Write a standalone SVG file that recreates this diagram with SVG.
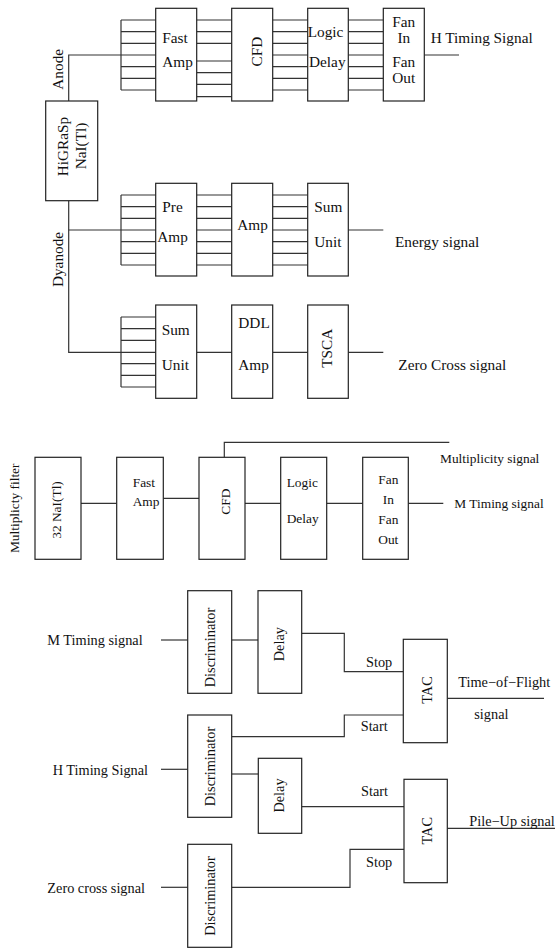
<svg xmlns="http://www.w3.org/2000/svg" width="555" height="950" viewBox="0 0 555 950">
<style>
.box{fill:#fff;stroke:#222;stroke-width:1.2}
.ln{fill:none;stroke:#333;stroke-width:1.2}
text{font-family:"Liberation Serif","Times New Roman",serif;fill:#111}
.t1{font-size:15.3px}
.t2{font-size:13.4px}
.t3{font-size:14.3px}
.m{text-anchor:middle}
</style>
<rect width="555" height="950" fill="#fff"/>

<g id="connectors">
  <!-- top: anode -->
  <polyline class="ln" points="68.7,101 68.7,55 121,55"/>
  <line class="ln" x1="121" y1="20" x2="121" y2="90"/>
  <path class="ln" d="M121,20H155.7M121,31.7H155.7M121,43.3H155.7M121,55H155.7M121,66.7H155.7M121,78.3H155.7M121,90H155.7"/>
  <path class="ln" d="M196.7,20H231.7M196.7,31.7H231.7M196.7,43.3H231.7M196.7,61H231.7M196.7,72.7H231.7M196.7,84.3H231.7M196.7,96.7H231.7"/>
  <path class="ln" d="M272.7,20H307.7M272.7,31.7H307.7M272.7,43.3H307.7M272.7,55H307.7M272.7,66.7H307.7M272.7,78.3H307.7M272.7,90H307.7"/>
  <path class="ln" d="M348.3,20H383.3M348.3,31.7H383.3M348.3,43.3H383.3M348.3,55H383.3M348.3,66.7H383.3M348.3,78.3H383.3M348.3,90H383.3"/>
  <line class="ln" x1="424.3" y1="55" x2="459" y2="55"/>
  <!-- dyanode -->
  <polyline class="ln" points="68.7,200.7 68.7,352.3 155.7,352.3"/>
  <line class="ln" x1="68.7" y1="230" x2="121" y2="230"/>
  <line class="ln" x1="121" y1="195" x2="121" y2="265"/>
  <path class="ln" d="M121,195H155.7M121,206.7H155.7M121,218.3H155.7M121,230H155.7M121,241.7H155.7M121,253.3H155.7M121,265H155.7"/>
  <path class="ln" d="M196.7,195H231.7M196.7,206.7H231.7M196.7,218.3H231.7M196.7,230H231.7M196.7,241.7H231.7M196.7,253.3H231.7M196.7,265H231.7"/>
  <path class="ln" d="M272.7,195H307.7M272.7,206.7H307.7M272.7,218.3H307.7M272.7,230H307.7M272.7,241.7H307.7M272.7,253.3H307.7M272.7,265H307.7"/>
  <line class="ln" x1="348.3" y1="230" x2="383.3" y2="230"/>
  <line class="ln" x1="121" y1="317" x2="121" y2="387"/>
  <path class="ln" d="M121,317H155.7M121,328.7H155.7M121,340.3H155.7M121,363.7H155.7M121,375.3H155.7M121,387H155.7"/>
  <line class="ln" x1="196.7" y1="352.3" x2="231.7" y2="352.3"/>
  <line class="ln" x1="272.7" y1="352.3" x2="307.7" y2="352.3"/>
  <line class="ln" x1="348.3" y1="352.3" x2="383.3" y2="352.3"/>
  <!-- multiplicity -->
  <line class="ln" x1="81" y1="503.3" x2="116.7" y2="503.3"/>
  <line class="ln" x1="163.3" y1="498.3" x2="199" y2="498.3"/>
  <line class="ln" x1="245" y1="503.3" x2="280.7" y2="503.3"/>
  <line class="ln" x1="326.7" y1="503.3" x2="362.7" y2="503.3"/>
  <line class="ln" x1="408.3" y1="503.3" x2="443.3" y2="503.3"/>
  <polyline class="ln" points="224.3,457.3 224.3,442.3 449.3,442.3"/>
  <!-- bottom -->
  <line class="ln" x1="161" y1="640" x2="187.7" y2="640"/>
  <line class="ln" x1="231.7" y1="640" x2="258.3" y2="640"/>
  <polyline class="ln" points="301.7,633.3 344.3,633.3 344.3,671.7 403.3,671.7"/>
  <polyline class="ln" points="231.7,736.7 344.3,736.7 344.3,715 403.3,715"/>
  <line class="ln" x1="447.3" y1="698.3" x2="544" y2="698.3"/>
  <line class="ln" x1="161" y1="769.3" x2="187.7" y2="769.3"/>
  <line class="ln" x1="231.7" y1="774" x2="258.3" y2="774"/>
  <line class="ln" x1="301.7" y1="806.7" x2="404" y2="806.7"/>
  <line class="ln" x1="447.3" y1="828.3" x2="555" y2="828.3"/>
  <line class="ln" x1="161" y1="887.3" x2="187.7" y2="887.3"/>
  <polyline class="ln" points="231.7,887.3 350,887.3 350,849.3 404,849.3"/>
</g>

<g id="labels">
  <text class="t1 m" transform="translate(63,69.3) rotate(-90)">Anode</text>
  <text class="t1 m" transform="translate(63,259.5) rotate(-90)">Dyanode</text>
  <text class="t1" x="430.7" y="43.3">H Timing Signal</text>
  <text class="t1" x="395" y="246.7">Energy signal</text>
  <text class="t1" x="398.3" y="370">Zero Cross signal</text>
  <text class="t2 m" transform="translate(18.5,508.3) rotate(-90)">Multiplicty filter</text>
  <text class="t2" x="440" y="463.3">Multiplicity signal</text>
  <text class="t2" x="454.3" y="508.3">M Timing signal</text>
  <text class="t3" x="47.3" y="645">M Timing signal</text>
  <text class="t3" x="52.7" y="775">H Timing Signal</text>
  <text class="t3" x="47.3" y="892.7">Zero cross signal</text>
  <text class="t3" x="366" y="667.3">Stop</text>
  <text class="t3" x="360.7" y="730.7">Start</text>
  <text class="t3" x="458.3" y="687.3">Time−of−Flight</text>
  <text class="t3" x="474.3" y="719.3">signal</text>
  <text class="t3" x="361" y="796">Start</text>
  <text class="t3" x="366" y="866.7">Stop</text>
  <text class="t3" x="469.3" y="826">Pile−Up signal</text>
</g>

<g id="higrasp">
  <rect class="box" x="45.7" y="101" width="52" height="99.7"/>
  <text class="t1 m" transform="translate(68.3,146.5) rotate(-90)">HiGRaSp</text>
  <text class="t1 m" transform="translate(86,146) rotate(-90)">NaI(Tl)</text>
</g>
<g id="fastamp1">
  <rect class="box" x="155.7" y="8.3" width="41" height="92.7"/>
  <text class="t1" x="162.3" y="42.7">Fast</text>
  <text class="t1" x="162.3" y="66.7">Amp</text>
</g>
<g id="cfd1">
  <rect class="box" x="231.7" y="8.3" width="41" height="92.7"/>
  <text class="t1 m" transform="translate(262,51.7) rotate(-90)">CFD</text>
</g>
<g id="logicdelay1">
  <rect class="box" x="307.7" y="8.3" width="40.6" height="92.7"/>
  <text class="t1" x="307.7" y="37.3">Logic</text>
  <text class="t1" x="309" y="66.7">Delay</text>
</g>
<g id="fan1">
  <rect class="box" x="383.3" y="8.3" width="41" height="92.7"/>
  <text class="t1 m" x="403.8" y="26.7">Fan</text>
  <text class="t1 m" x="403.8" y="42.7">In</text>
  <text class="t1 m" x="403.8" y="66.7">Fan</text>
  <text class="t1 m" x="403.8" y="83.3">Out</text>
</g>
<g id="preamp">
  <rect class="box" x="155.7" y="183.3" width="41" height="92.7"/>
  <text class="t1" x="162.3" y="211.7">Pre</text>
  <text class="t1" x="157.3" y="241.7">Amp</text>
</g>
<g id="amp">
  <rect class="box" x="231.7" y="183.3" width="41" height="92.7"/>
  <text class="t1 m" x="252.5" y="230">Amp</text>
</g>
<g id="sumunit1">
  <rect class="box" x="307.7" y="183.3" width="40.6" height="92.7"/>
  <text class="t1" x="314.3" y="211.7">Sum</text>
  <text class="t1" x="314.3" y="246.7">Unit</text>
</g>
<g id="sumunit2">
  <rect class="box" x="155.7" y="305" width="41" height="93.3"/>
  <text class="t1" x="161.7" y="335">Sum</text>
  <text class="t1" x="161.7" y="370">Unit</text>
</g>
<g id="ddlamp">
  <rect class="box" x="231.7" y="305" width="41" height="93.3"/>
  <text class="t1" x="238.3" y="328.3">DDL</text>
  <text class="t1" x="238.3" y="370">Amp</text>
</g>
<g id="tsca">
  <rect class="box" x="307.7" y="305" width="40.6" height="93.3"/>
  <text class="t1 m" transform="translate(331.5,348.3) rotate(-90)">TSCA</text>
</g>

<g id="nai32">
  <rect class="box" x="35" y="457.3" width="46" height="102"/>
  <text class="t2 m" transform="translate(60.5,510) rotate(-90)">32 NaI(Tl)</text>
</g>
<g id="fastamp2">
  <rect class="box" x="116.7" y="457.3" width="46.6" height="102"/>
  <text class="t2" x="132.7" y="486.7">Fast</text>
  <text class="t2" x="132.7" y="506">Amp</text>
</g>
<g id="cfd2">
  <rect class="box" x="199" y="457.3" width="46" height="102"/>
  <text class="t2 m" transform="translate(230,501.7) rotate(-90)">CFD</text>
</g>
<g id="logicdelay2">
  <rect class="box" x="280.7" y="457.3" width="46" height="102"/>
  <text class="t2" x="286.7" y="486.7">Logic</text>
  <text class="t2" x="286.7" y="523.3">Delay</text>
</g>
<g id="fan2">
  <rect class="box" x="362.7" y="457.3" width="45.6" height="102"/>
  <text class="t2 m" x="388.3" y="484">Fan</text>
  <text class="t2 m" x="388.3" y="504">In</text>
  <text class="t2 m" x="388.3" y="524">Fan</text>
  <text class="t2 m" x="388.3" y="544">Out</text>
</g>

<g id="disc1">
  <rect class="box" x="187.7" y="590.7" width="44" height="102.6"/>
  <text class="t3 m" transform="translate(215,647.5) rotate(-90)">Discriminator</text>
</g>
<g id="delay1">
  <rect class="box" x="258" y="590.7" width="43.7" height="102.6"/>
  <text class="t3 m" transform="translate(284,644.2) rotate(-90)">Delay</text>
</g>
<g id="tac1">
  <rect class="box" x="403.3" y="639.3" width="44" height="103.4"/>
  <text class="t3 m" transform="translate(431.5,690) rotate(-90)">TAC</text>
</g>
<g id="disc2">
  <rect class="box" x="187.7" y="715" width="44" height="102.3"/>
  <text class="t3 m" transform="translate(215,766.5) rotate(-90)">Discriminator</text>
</g>
<g id="delay2">
  <rect class="box" x="258.3" y="758.3" width="43.4" height="75"/>
  <text class="t3 m" transform="translate(284,795.5) rotate(-90)">Delay</text>
</g>
<g id="tac2">
  <rect class="box" x="404" y="779.3" width="43.3" height="103.4"/>
  <text class="t3 m" transform="translate(431.5,830.8) rotate(-90)">TAC</text>
</g>
<g id="disc3">
  <rect class="box" x="187.7" y="844.3" width="44" height="103"/>
  <text class="t3 m" transform="translate(215,896) rotate(-90)">Discriminator</text>
</g>
</svg>
